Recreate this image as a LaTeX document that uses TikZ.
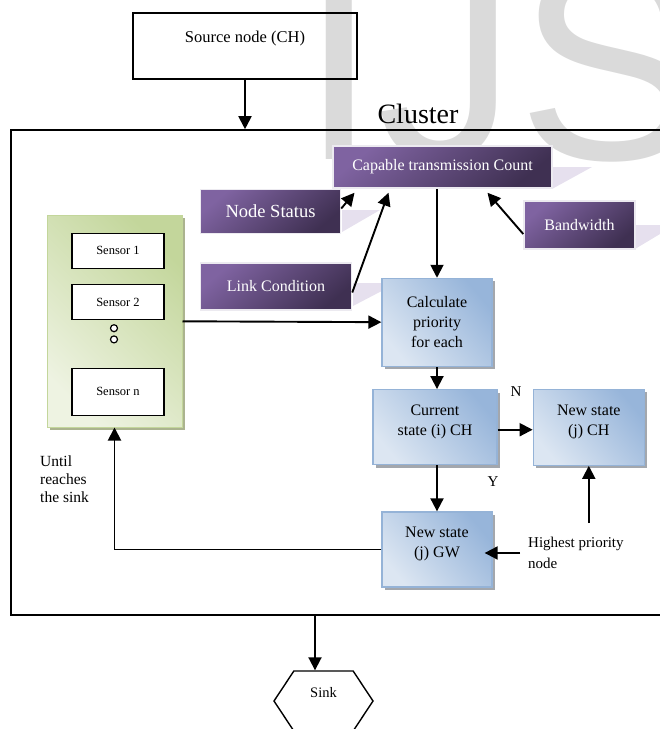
\documentclass[tikz,border=0pt]{standalone}
\usepackage{fontspec}
\setmainfont{Liberation Serif}
\newfontfamily\markfont{Liberation Sans}
\usetikzlibrary{positioning,arrows.meta,shadows,shapes.symbols}

\definecolor{attrA}{HTML}{7F63A1}
\definecolor{attrB}{HTML}{3F3052}
\definecolor{attrline}{HTML}{ECEAF0}
\definecolor{procA}{HTML}{DCE6F2}
\definecolor{procB}{HTML}{97B5DA}
\definecolor{procline}{HTML}{95B3D7}
\definecolor{procshadow}{HTML}{A3A7AD}
\definecolor{panelA}{HTML}{EEF3E2}
\definecolor{panelB}{HTML}{C3D69B}
\definecolor{panelshadow}{HTML}{ABB38F}
\definecolor{reflect}{HTML}{E6E0EE}
\definecolor{markgray}{HTML}{DADADA}

\tikzset{
	arr/.style={line width=1.9pt, -{Triangle[length=13pt,width=13pt]}},
	box/.style={rectangle, draw, line width=1.4pt},
	attr/.style={rectangle, draw=attrline, line width=1.5pt, top color=attrA, bottom color=attrB, shading angle=40, text=white, font=\fontsize{16}{19}\selectfont},
	proc/.style={rectangle, draw=procline, line width=1.3pt, top color=procB, bottom color=procA, shading angle=-50, align=center, font=\fontsize{16}{20}\selectfont, drop shadow={shadow xshift=3pt, shadow yshift=-3pt, fill=procshadow, opacity=1}},
	sensor/.style={rectangle, draw, line width=1.3pt, fill=white, minimum width=92pt, minimum height=35pt, font=\fontsize{12.5}{15}\selectfont},
	dot/.style={circle, draw, line width=1.2pt, fill=white, inner sep=0pt, minimum size=7pt},
	lbl/.style={inner sep=0pt, font=\fontsize{15}{18}\selectfont},
}

\begin{document}
\begin{tikzpicture}[x=1pt, y=-1pt]
	\useasboundingbox (0,0) rectangle (660,729);
	\clip (0,0) rectangle (660,729);

	% watermark and reflections behind everything
	\node[anchor=base west, inner sep=0pt, text=markgray, font=\markfont\fontsize{279}{279}\selectfont](mark) at (300,159) {IJSER};
	\fill[reflect] (552,167) -- (592,167) -- (552,189) -- cycle;
	\fill[reflect] (342,210) -- (380,210) -- (342,232) -- cycle;
	\fill[reflect] (353,283) -- (397,283) -- (353,306) -- cycle;
	\fill[reflect] (635,225) -- (675,225) -- (635,249) -- cycle;

	%% SOURCE and CLUSTER
	\node[box, minimum width=224pt, minimum height=66pt, text depth=18pt, font=\fontsize{16.5}{19}\selectfont](src) at (245,46) {Source node (CH)};
	\node[box, line width=1.6pt, minimum width=814pt, minimum height=485pt](cluster) at (418,372.5) {};
	\node[anchor=base, inner sep=0pt, font=\fontsize{28}{30}\selectfont](cluster_lbl) at ([yshift=6pt]cluster.north) {Cluster};

	% ATTRIBUTES
	\node[attr, minimum width=219pt, minimum height=42pt](cap) at (442.5,167) {Capable transmission Count};
	\node[attr, minimum width=140pt, minimum height=44pt, font=\fontsize{18.5}{22}\selectfont, below left=0pt and -9pt of cap.south west](status) {Node Status};
	\node[attr, minimum width=151pt, minimum height=47pt, below=28pt of status.south west, anchor=north west](link) {Link Condition};
	\node[attr, minimum width=111pt, minimum height=48pt](bw) at (579.5,225) {Bandwidth};

	%% PRIORITY steps
	\node[proc, minimum width=110pt, minimum height=88pt, below=89pt of cap, xshift=-5.5pt](calc) {Calculate\\priority\\for each};
	\node[proc, minimum width=124pt, minimum height=75pt, text depth=14pt, below=22pt of calc, xshift=-2pt](cur) {Current\\state (i) CH};
	\node[proc, minimum width=111pt, minimum height=76pt, text depth=14pt, right=35pt of cur](newch) {New state\\(j) CH};
	\node[proc, minimum width=110pt, minimum height=75pt, text depth=14pt, below=46pt of cur, xshift=2pt](gw) {New state\\(j) GW};

	% SENSORS
	\node[rectangle, draw=panelB, line width=1pt, top color=panelB, bottom color=panelA, shading angle=-45, drop shadow={shadow xshift=3pt, shadow yshift=-3pt, fill=panelshadow, opacity=1}, minimum width=135pt, minimum height=212pt](panel) at (114.5,321) {};
	\node[sensor, below=18pt of panel.north, xshift=3.5pt](sensor_1) {Sensor 1};
	\node[sensor, below=15pt of sensor_1](sensor_2) {Sensor 2};
	\node[dot, below=4pt of sensor_2, xshift=-4pt](dot_1) {};
	\node[dot, below=3pt of dot_1](dot_2) {};
	\node[sensor, minimum height=47pt, below=24pt of dot_2, xshift=4pt](sensor_n) {Sensor n};

	%% LABELS and SINK
	\node[lbl, align=left, anchor=north west, font=\fontsize{15.5}{18}\selectfont](until) at (40,456) {Until\\reaches\\the sink};
	\node[lbl, align=left, anchor=north west, font=\fontsize{15}{21}\selectfont](hp) at (528,537) {Highest priority\\node};
	\node[lbl](lbl_n) at (516,392) {N};
	\node[lbl](lbl_y) at (493,482) {Y};
	\coordinate[above=14pt of hp.north](hp_top);
	\node[signal, draw, line width=1.4pt, signal to=east and west, signal pointer angle=113, minimum width=99pt, minimum height=60pt, text depth=18pt, font=\fontsize{14.5}{17}\selectfont](sink) at (323.5,701) {Sink};

	%% EDGES
	\draw[arr] (src) -- (src |- cluster.north);
	\draw[arr] ([yshift=3pt]status.east) -- ([xshift=-88pt,yshift=-4pt]cap.south);
	\draw[arr] ([yshift=-6pt]link.east) -- ([xshift=-54pt,yshift=-4pt]cap.south);
	\draw[arr] ([yshift=-9pt]bw.west) -- ([xshift=45pt,yshift=-4pt]cap.south);
	\draw[arr] (cap.south -| calc.north) -- (calc.north);
	\draw[arr] (panel) -- (calc);
	\draw[arr] (calc) -- (calc |- cur.north);
	\draw[arr] ([yshift=-2.5pt]cur.east) -- ([yshift=-2.5pt]cur.east -| newch.west);
	\draw[arr] (cur.south -| gw.north) -- (gw.north);
	\draw[arr] ([xshift=-8pt]hp.west) -- ([xshift=-8pt]hp.west -| gw.east);
	\draw[arr] (newch.south |- hp_top) -- (newch.south);
	\draw[arr] (gw.west) -| (panel.south);
	\draw[arr] ([xshift=-8.5pt]sink.north |- cluster.south) -- ([xshift=-8.5pt]sink.north);

\end{tikzpicture}
\end{document}
